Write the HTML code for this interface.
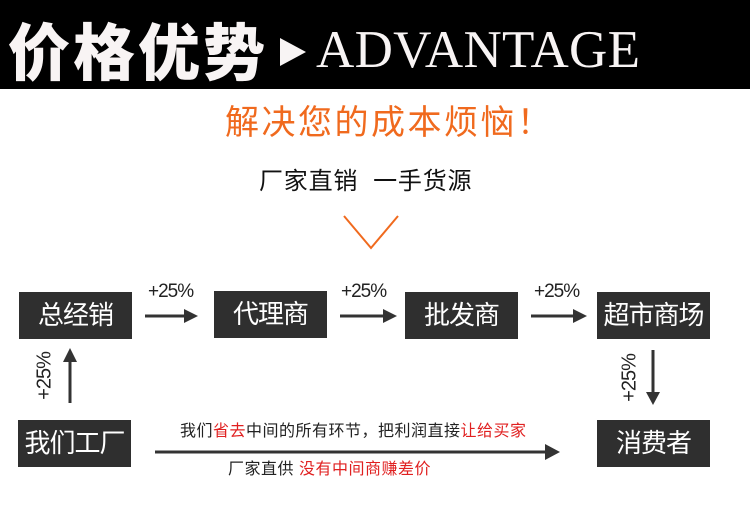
<!DOCTYPE html>
<html><head><meta charset="utf-8"><style>
body{margin:0;width:750px;height:522px;background:#fff;position:relative;overflow:hidden;font-family:"Liberation Sans","Noto Sans CJK SC",sans-serif}
.a{position:absolute;white-space:nowrap}
.box{position:absolute;background:#2f2f2f;color:#fff;font-size:26px;width:113px;height:47px;line-height:47px;text-align:center;letter-spacing:-1px}
.p{position:absolute;font-size:19px;color:#222;letter-spacing:-1px}
.r{color:#e02020}
</style></head><body>
<div class="a" style="left:8px;top:0;width:742px;height:0"></div>
<div class="a" style="left:0;top:0;width:750px;height:89px;background:#000"></div>
<div class="a" style="left:8px;top:12px;font-size:62px;font-weight:900;color:#f8f4f4;letter-spacing:3px;line-height:72px;font-family:'Noto Sans CJK SC',sans-serif">价格优势</div>
<div class="a" style="left:280px;top:38px;width:0;height:0;border-left:26px solid #f8f4f4;border-top:14px solid transparent;border-bottom:14px solid transparent"></div>
<div class="a" style="left:316px;top:24px;font-size:53px;color:#f8f4f4;font-family:'Liberation Serif',serif;line-height:53px;letter-spacing:0.3px">ADVANTAGE</div>
<div class="a" style="left:225px;top:102px;font-size:34px;color:#f06a1e;line-height:42px;letter-spacing:2.5px">解决您的成本烦恼！</div>
<div class="a" style="left:259px;top:166px;font-size:24px;color:#111;line-height:32px;letter-spacing:0.8px">厂家直销&nbsp;&nbsp;一手货源</div>
<svg class="a" style="left:0;top:0" width="750" height="522">
<polyline points="344,216 371,248 398,216" fill="none" stroke="#f06a1e" stroke-width="2"/>
<g stroke="#333" stroke-width="3" fill="#333">
<line x1="145" y1="316" x2="186" y2="316"/><polygon points="184,309 198,316 184,323" stroke="none"/>
<line x1="340" y1="316" x2="384" y2="316"/><polygon points="383,309 397,316 383,323" stroke="none"/>
<line x1="531" y1="316" x2="574" y2="316"/><polygon points="573,309 587,316 573,323" stroke="none"/>
<line x1="70" y1="403" x2="70" y2="360"/><polygon points="63,362 70,348 77,362" stroke="none"/>
<line x1="653" y1="350" x2="653" y2="393"/><polygon points="646,392 653,405 660,392" stroke="none"/>
<line x1="155" y1="452" x2="546" y2="452"/><polygon points="545,444 560,452 545,460" stroke="none"/>
</g>
<text x="45" y="376" transform="rotate(-90 45 376)" text-anchor="middle" dominant-baseline="middle" font-size="20" fill="#222" font-family="Liberation Sans,sans-serif" letter-spacing="-1">+25%</text>
<text x="630" y="378" transform="rotate(-90 630 378)" text-anchor="middle" dominant-baseline="middle" font-size="20" fill="#222" font-family="Liberation Sans,sans-serif" letter-spacing="-1">+25%</text>
</svg>
<div class="p" style="left:148px;top:281px">+25%</div>
<div class="p" style="left:341px;top:281px">+25%</div>
<div class="p" style="left:534px;top:281px">+25%</div>
<div class="box" style="left:19px;top:292px">总经销</div>
<div class="box" style="left:214px;top:291px">代理商</div>
<div class="box" style="left:405px;top:292px">批发商</div>
<div class="box" style="left:597px;top:292px">超市商场</div>
<div class="box" style="left:18px;top:420px">我们工厂</div>
<div class="box" style="left:597px;top:420px">消费者</div>
<div class="a" style="left:180px;top:422px;font-size:16px;color:#222;line-height:20px;letter-spacing:0.5px">我们<span class="r">省去</span>中间的所有环节，把利润直接<span class="r">让给买家</span></div>
<div class="a" style="left:228px;top:460px;font-size:16px;color:#222;line-height:20px;letter-spacing:0.5px">厂家直供 <span class="r">没有中间商赚差价</span></div>
</body></html>
